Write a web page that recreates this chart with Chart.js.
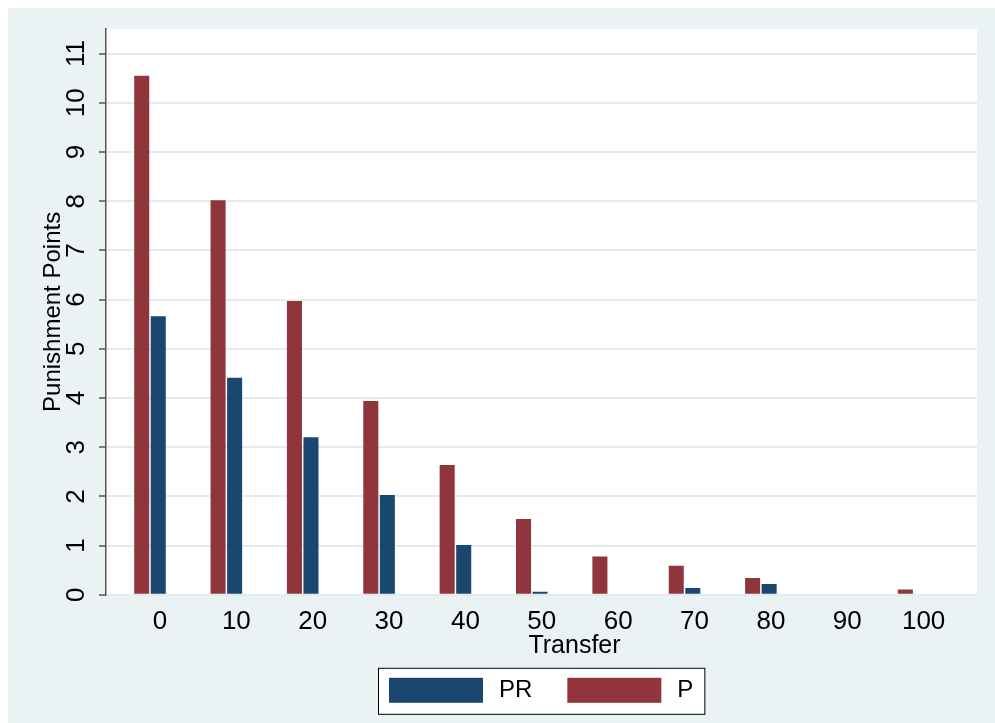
<!DOCTYPE html>
<html>
<head>
<meta charset="utf-8">
<script src="https://cdn.jsdelivr.net/npm/chart.js@4.4.1/dist/chart.umd.min.js"></script>
<style>
  html, body { margin: 0; padding: 0; background: #fff; }
</style>
</head>
<body>
<canvas id="grafica" width="995" height="723"></canvas>
<script>
// datos
const transfer = [0, 10, 20, 30, 40, 50, 60, 70, 80, 90, 100];
const valoresP = [10.55, 8.02, 5.97, 3.94, 2.64, 1.54, 0.78, 0.59, 0.34, 0, 0.11];
const valoresPR = [5.66, 4.41, 3.20, 2.03, 1.01, 0.06, 0, 0.14, 0.22, 0, 0];
const ticksY = [0, 1, 2, 3, 4, 5, 6, 7, 8, 9, 10, 11];

const fondo = '#EAF2F3';
const fuente = '"Liberation Sans", Arial, sans-serif';

Chart.defaults.font.family = fuente;
Chart.defaults.color = '#000';

// fondo, titulo del eje x y leyenda con marco
const marco = {
  id: 'marco',
  beforeDraw(chart) {
    const { ctx, chartArea: a, width, height } = chart;
    ctx.save();
    ctx.fillStyle = '#fff';
    ctx.fillRect(0, 0, width, height);
    ctx.fillStyle = fondo;
    ctx.fillRect(8, 8, width - 8, height - 8);
    ctx.fillStyle = '#fff';
    ctx.fillRect(a.left, a.top, a.right - a.left, a.bottom - a.top);
    ctx.restore();
  },
  afterDraw(chart) {
    const { ctx, chartArea: a } = chart;
    const centro = (a.left + a.right) / 2;
    ctx.save();
    ctx.fillStyle = '#000';
    ctx.font = '25px ' + fuente;
    ctx.textAlign = 'center';
    ctx.textBaseline = 'alphabetic';
    ctx.fillText('Transfer', centro + 33, a.bottom + 58);

    ctx.font = '24px ' + fuente;
    const items = chart.data.datasets.slice().reverse();
    const anchos = items.map(d => 94 + 16 + ctx.measureText(d.label).width);
    const total = 22 + anchos.reduce((s, w) => s + w, 0) + 35 * (items.length - 1);
    let x = Math.round(centro - total / 2);
    const top = a.bottom + 73;
    ctx.fillStyle = '#fff';
    ctx.fillRect(x, top, total, 46);
    ctx.strokeStyle = '#000';
    ctx.lineWidth = 1;
    ctx.strokeRect(x + 0.5, top + 0.5, total, 46);
    x += 11;
    items.forEach((d, i) => {
      ctx.fillStyle = d.backgroundColor;
      ctx.fillRect(x, top + 10, 94, 25);
      ctx.fillStyle = '#000';
      ctx.textAlign = 'left';
      ctx.textBaseline = 'middle';
      ctx.fillText(d.label, x + 110, top + 23);
      x += anchos[i] + 35;
    });
    ctx.restore();
  }
};

const ctx = document.getElementById('grafica').getContext('2d');

const grafica = new Chart(ctx, {
  type: 'bar',
  data: {
    datasets: [
      {
        label: 'P',
        data: transfer.map((t, i) => ({ x: t, y: valoresP[i] })),
        backgroundColor: '#90353B',
        borderWidth: 0
      },
      {
        label: 'PR',
        data: transfer.map((t, i) => ({ x: t, y: valoresPR[i] })),
        backgroundColor: '#1A476F',
        borderWidth: 0
      }
    ]
  },
  options: {
    responsive: false,
    animation: false,
    categoryPercentage: 0.433,
    barPercentage: 0.91,
    layout: { padding: { top: 29, right: 18, bottom: 75, left: 20 } },
    plugins: {
      legend: { display: false },
      tooltip: { enabled: false }
    },
    scales: {
      x: {
        type: 'linear',
        offset: false,
        min: -5.76,
        max: 108.3,
        afterBuildTicks: s => { s.ticks = transfer.map(v => ({ value: v })); },
        grid: { display: false, drawTicks: false },
        border: { display: false },
        ticks: {
          font: { size: 26 },
          labelOffset: 10,
          padding: 11,
          maxRotation: 0
        }
      },
      y: {
        min: 0,
        max: 11.5,
        afterBuildTicks: s => { s.ticks = ticksY.map(v => ({ value: v })); },
        afterFit: s => { s.width = 86; },
        grid: {
          color: '#E3ECEE',
          lineWidth: 2,
          tickColor: '#555',
          tickLength: 7,
          tickWidth: 1.5
        },
        border: { display: true, color: '#555', width: 1.5 },
        ticks: {
          font: { size: 26 },
          minRotation: 90,
          maxRotation: 90,
          crossAlign: 'center',
          padding: 8
        },
        title: {
          display: true,
          text: 'Punishment Points',
          font: { size: 24 },
          padding: { top: 19, bottom: 0 }
        }
      }
    }
  },
  plugins: [marco]
});
</script>
</body>
</html>
